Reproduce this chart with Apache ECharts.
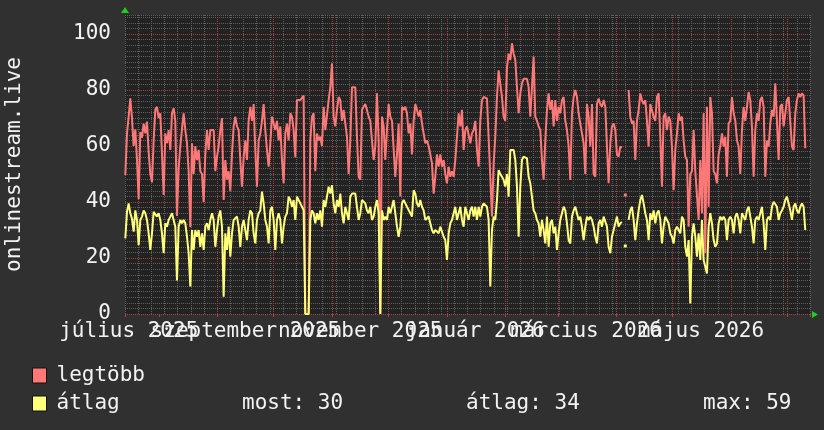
<!DOCTYPE html>
<html>
<head>
<meta charset="utf-8">
<script src="https://cdn.jsdelivr.net/npm/echarts@6/dist/echarts.min.js"></script>
<style>
html,body{margin:0;padding:0;background:#303030;}
#c{width:824px;height:430px;}
</style>
</head>
<body>
<div id="c"></div>
<script>
// ---- data (x unit: days after Monday 2025-07-14) ----
const yTitle = 'onlinestream.live';
const seriesNames = ['legtöbb', 'átlag'];
const rangeStartUTC = Date.UTC(2025, 6, 14);
const rangeEndUTC = Date.UTC(2026, 6, 13);
const monthLabelDays = [2, 64, 125, 186, 245, 306];
const monthLabels = ['július 2025', 'szeptember 2025', 'november 2025', 'január 2026', 'március 2026', 'május 2026'];
const yTicks = [0, 20, 40, 60, 80, 100];
const statTexts = ['most: 30', 'átlag: 34', 'max: 59'];
const sampleStart = 0.17;   // first sample, days
const sampleStep = 0.8856;  // days between samples

const legtobb = [
  49.6, 64.5, 70.5, 77, 70, 60, 66, 55, 41, 65,
  63, 68, 64.5, 68.7, 58, 50, 47, 62, 73, 74,
  70, 71.7, 71, 42.5, 64.5, 61, 65.7, 58.6, 71.7, 73.5,
  69, 35, 52, 60, 66, 71.7, 65.7, 61, 51, 31,
  61, 50, 60, 55, 58.6, 51, 50, 40, 57, 65.7,
  58.6, 65.7, 66, 65.7, 51, 56, 60, 65.7, 70, 40.7,
  55, 48, 51, 44, 57, 67, 70.5, 67, 65.7, 55,
  45.5, 56, 62, 55, 69, 74, 69, 75, 58.6, 45.5,
  62, 64.5, 69, 75, 65.7, 58.6, 52.6, 61, 70.5, 70.5,
  65.7, 69, 62, 67, 55, 46.7, 64.5, 68, 62, 71.7,
  70.5, 65.7, 56, 76.4, 75.8, 76.4, 77, 78, 0, 0,
  0, 62, 70.5, 71.7, 51, 64.5, 62, 63.3, 60, 74,
  65.7, 65.7, 76.4, 81, 89.5, 70.5, 67, 73, 77.5, 76.4,
  69, 72.9, 68, 63.3, 50, 62, 81, 81, 81,
  63.3, 49, 48, 72.9, 74, 75, 72.9, 70.5, 69, 62,
  55, 60, 78.8, 62, 0, 70.5, 67, 55, 65.7, 75,
  70.5, 69, 69, 49, 57, 68, 42, 74, 72.9, 74,
  71.7, 64.5, 68, 57, 69, 75, 72.9, 70.5, 72.9, 68,
  64.5, 61, 62, 60, 57, 53.8, 43, 49, 57, 52.6,
  57, 52.6, 55, 50, 46.7, 52.6, 49, 51, 49, 55,
  63.3, 71.7, 67, 72.9, 58.6, 65.7, 67, 67, 61, 64.5,
  65.7, 69, 58.6, 52.6, 69, 76.4, 77.5, 77.5, 77, 77.5,
  49, 34.8, 53.8, 63.3, 77.5, 87, 87, 77.5, 70.5, 69,
  88, 93, 90.7, 96.7, 93, 90.7, 81, 71.7, 78.8, 82.4,
  84, 83.3, 84, 81, 70.5, 81, 92, 70.5, 69, 67,
  65.7, 55, 48, 62, 72.9, 78.8, 72.9, 76.4, 67, 76.4,
  69, 74, 71.7, 76.4, 77.5, 69, 65.7, 60, 47.9, 71.7,
  77.5, 80, 77.5, 71.7, 68, 64.5, 61, 50,
  75, 70.5, 59.8, 75, 50, 49, 75, 77, 75, 74,
  76.4, 74, 59.8, 46.7, 61, 67, 68, 65.7, 57, 56.2,
  59.8, 59.4, null, 42.5, null, 80, 70.5, 68, 69, 55,
  69, 72.9, 78.8, 76.4, 75, 76.4, 69, 59.8, 75, 75,
  70.5, 69, 77.5, 78.8, 63.3, 45.5, 70.5, 71.7, 65.7, 70.5,
  69, 59.8, 44.2, 58.6, 64.5, 71.7, 69, 70.5, 62, 56.2,
  55, 31.2, 50, 51, 65.7, 51, 51, 33.6, 55, 36,
  71.7, 21.7, 74, 38.3, 77.5, 71.7, 51, 50, 46.7, 57,
  59.8, 64.5, 59.8, 63.3, 49, 68, 69, 77.5, 71.7, 69,
  62, 59.8, 50, 65.7, 74, 69, 74, 79.3, 76.4, 67,
  49, 65.7, 71.7, 69, 76.4, 77.5, 74, 49, 62, 59.8,
  68, 72.9, 70.5, 82.4, 82.4, 55, 74, 75, 67, 71.7,
  76.4, 77.5, 77.5, 59.8, 58.6, 71.7, 76.4, 78.8, 77.5, 78.8,
  78, 59.2
];

const atlag = [
  27, 36.5, 39.5, 36, 34, 29.4, 37, 33.6, 24.6, 33.6,
  34.8, 37, 36, 33.6, 28.8, 22.9, 28.8, 36.5, 37, 34.8,
  36, 33.6, 28.8, 21.7, 32.4, 31.2, 33.6, 34.8, 36, 36.5,
  31.2, 12, 31.2, 33.6, 32.4, 33.6, 32.4, 27.6, 21.7, 9.8,
  30, 22.9, 30, 27.6, 30, 24, 28.8, 22.9, 31.2, 32.4,
  30, 33.6, 36, 33.6, 24, 30, 34.8, 37, 31.2, 6.2,
  28.8, 22.9, 31.2, 20.5, 28.8, 33.6, 33.6, 34.8, 31.2, 24,
  31.2, 33.6, 33.6, 26.4, 33.6, 37, 36, 28.8, 25.2, 33.6,
  36, 37, 43.7, 39.5, 33.6, 31.2, 25.2, 37, 38.3, 33.6,
  22.9, 33.6, 36, 33.6, 25.2, 31.2, 34.8, 36, 41.9, 40.7,
  38.3, 40.7, 33.6, 41.9, 40.7, 39.5, 38.3, 37, 0, 0,
  0, 33.6, 37, 36, 32.4, 36, 33.6, 37, 31.2, 40.7,
  38.3, 41.9, 45.5, 43, 46, 39.5, 36, 40.7, 38.3, 43,
  36, 32.4, 38.3, 36, 33.6, 41.9, 43, 43, 43,
  38.3, 33.6, 36, 40.7, 40.7, 39.5, 37, 36, 38.3, 33.6,
  34.8, 38.3, 40.7, 36, 0, 37, 33.6, 34.8, 33.6, 38.3,
  36, 38.3, 40.7, 36, 31.2, 27.6, 31.2, 39.5, 40.7, 39.5,
  38.3, 38.3, 36, 34.8, 44.2, 43, 39.5, 38.3, 40.7, 38.3,
  37, 33.6, 33.6, 34.8, 32.4, 30, 28.8, 30, 30, 28.8,
  31.2, 31.2, 27.6, 26.4, 19.3, 28.8, 32.4, 33.6, 33.6, 38.3,
  33.6, 36, 38.3, 33.6, 31.2, 38.3, 36, 33.6, 37, 38.3,
  34.8, 38.3, 33.6, 38.3, 34.8, 38.3, 39.5, 39.5, 38.3, 33.6,
  9.8, 30, 34.8, 33.6, 40.7, 51.4, 50, 49, 47.9, 45.5,
  50, 41.9, 58.6, 59.2, 58.6, 55, 45.5, 27.6, 45.5, 55,
  56.2, 56.2, 55.6, 49, 46.7, 46.7, 37, 36, 33.6, 32.4,
  27.6, 33.6, 30, 25.2, 34.8, 24, 32.4, 33.6, 28.8, 31.2,
  22.9, 28.8, 33.6, 36, 38.3, 37, 32.4, 26.4, 25.2, 34.8,
  37, 38.3, 36, 33.6, 34.8, 31.2, 26.4, 31.2,
  34.8, 33.6, 34.8, 33.6, 31.2, 27.6, 25.2, 32.4, 33.6, 31.2,
  34.8, 34.8, 31.2, 24, 21.7, 27.6, 30, 32.4, 34.8, 31.2,
  32.4, 32.9, null, 24.3, null, 33.6, 37, 38.3, 33.6, 26.4,
  32.4, 37, 40.7, 42.5, 39.5, 36, 33.6, 26.4, 36, 33.6,
  37, 32.4, 36, 37, 33.6, 25.2, 31.2, 34.8, 34.8, 32.4,
  28.8, 27.6, 25.2, 30, 31.2, 30, 28.8, 34.8, 33.6, 24,
  20.5, 26.4, 3.8, 27.6, 32.4, 27.6, 20.5, 28.8, 19.3, 33.6,
  19.3, 19, 14.5, 31.2, 36, 32.4, 26.4, 24, 25.2, 32.4,
  34.8, 33.6, 34.8, 33.6, 26.4, 33.6, 34.8, 33.6, 28.8, 34.8,
  36, 33.6, 28.8, 36, 34.8, 33.6, 37, 38.3, 34.8, 31.2,
  25.2, 33.6, 34.8, 33.6, 36, 38.3, 32.4, 22.9, 33.6, 34.8,
  33.6, 38.3, 40.1, 40.7, 38.3, 33.6, 36, 37, 38.3, 40.7,
  41.9, 39.5, 37, 33.6, 38.3, 39.5, 37, 36, 38.3, 39.5,
  38.3, 30
];

// ---- build ----
function build(vals) {
  return vals.map(function (v, i) {
    const t = sampleStart + i * sampleStep;
    if (v == null) return [t, '-'];
    const isolated = i > 0 && i < vals.length - 1 && vals[i - 1] == null && vals[i + 1] == null;
    if (isolated) return { value: [t, v], symbol: 'rect', symbolSize: 3 };
    return [t, v];
  });
}

const FONT = "'DejaVu Sans Mono', monospace";
const TXT = '#f2f2f2';
const RED = '#ff7878';
const YEL = '#ffff7a';
const MINOR = '#606060';
const MAJOR = '#a04040';
const CLEAR = 'rgba(0,0,0,0)';
const DAY = 86400000;

// month labels overlap in the original, so they are spread over three label axes
function labelAxis(idxs) {
  const vals = idxs.map(function (i) { return monthLabelDays[i]; });
  return {
    type: 'value', min: 0, max: 364, position: 'bottom',
    axisLine: { show: false }, axisTick: { show: false }, splitLine: { show: false },
    axisLabel: {
      show: true, customValues: vals, hideOverlap: false,
      showMinLabel: true, showMaxLabel: true,
      formatter: function (v) { return monthLabels[monthLabelDays.indexOf(v)]; },
      color: TXT, fontSize: 21, fontFamily: FONT, margin: 7
    }
  };
}

// month grid colours: first/last ticks are the range edges, keep them invisible
const monthGridColors = [CLEAR, MAJOR, MAJOR, MAJOR, MAJOR, MAJOR, MAJOR, MAJOR, MAJOR, MAJOR, MAJOR, MAJOR, MAJOR, CLEAR];

const chart = echarts.init(document.getElementById('c'), null, { renderer: 'canvas' });
chart.setOption({
  useUTC: true,
  backgroundColor: '#303030',
  animation: false,
  textStyle: { fontFamily: FONT },
  grid: {
    left: 125, right: 14, top: 15, bottom: 116,
    show: true, backgroundColor: '#222222', borderWidth: 0,
    containLabel: false, outerBoundsMode: 'none'
  },
  legend: {
    orient: 'vertical', left: 32, top: 365, padding: 0,
    itemWidth: 14, itemHeight: 15, itemGap: 7,
    icon: 'rect', selectedMode: false,
    itemStyle: { borderColor: '#111', borderWidth: 1 },
    textStyle: { color: TXT, fontSize: 21, fontFamily: FONT, padding: [0, 0, 0, 5] },
    data: seriesNames
  },
  xAxis: [
    {
      type: 'value', min: 0, max: 364, interval: 7, position: 'bottom',
      axisLine: { show: false }, axisTick: { show: false }, axisLabel: { show: false },
      splitLine: { show: true, lineStyle: { color: MINOR, width: 1, type: [1, 1] } }
    },
    labelAxis([0, 2, 5]),
    labelAxis([1, 3]),
    labelAxis([4]),
    {
      // month grid (red) on a calendar axis spanning the same range
      type: 'time', min: rangeStartUTC, max: rangeEndUTC, position: 'bottom',
      splitNumber: 12, minInterval: 28 * DAY, maxInterval: 31 * DAY,
      axisLine: { show: false }, axisLabel: { show: false },
      axisTick: { show: true, length: 3, lineStyle: { color: '#b04040' } },
      splitLine: { show: true, showMinLine: false, showMaxLine: false, lineStyle: { color: monthGridColors, width: 1, type: [1, 1] } }
    }
  ],
  yAxis: [
    {
      type: 'value', min: 0, max: 106.8, interval: 2, position: 'left',
      axisLine: { show: false }, axisTick: { show: false },
      splitLine: { show: true, lineStyle: { color: MINOR, width: 1, type: [1, 1] } },
      axisLabel: { customValues: yTicks, color: TXT, fontSize: 21, fontFamily: FONT, margin: 14 },
      name: yTitle, nameLocation: 'middle', nameGap: 100,
      nameTextStyle: { color: TXT, fontSize: 21, fontFamily: FONT }
    },
    {
      type: 'value', min: 0, max: 106.8, interval: 20, position: 'left',
      axisLine: { show: false }, axisTick: { show: false }, axisLabel: { show: false },
      splitLine: { show: true, showMaxLine: false, lineStyle: { color: MAJOR, width: 1, type: [1, 1] } }
    }
  ],
  graphic: [
    { type: 'polygon', silent: true, shape: { points: [[121, 13], [129, 13], [125, 7]] }, style: { fill: '#1ed01e' } },
    { type: 'polygon', silent: true, shape: { points: [[812, 311], [812, 318], [818, 314.5]] }, style: { fill: '#1ed01e' } },
    { type: 'text', silent: true, x: 242, y: 404, style: { text: statTexts[0], fill: TXT, font: '21px ' + FONT, verticalAlign: 'middle' } },
    { type: 'text', silent: true, x: 466, y: 404, style: { text: statTexts[1], fill: TXT, font: '21px ' + FONT, verticalAlign: 'middle' } },
    { type: 'text', silent: true, x: 703, y: 404, style: { text: statTexts[2], fill: TXT, font: '21px ' + FONT, verticalAlign: 'middle' } }
  ],
  series: [
    {
      name: seriesNames[0], type: 'line', xAxisIndex: 0, yAxisIndex: 0,
      data: build(legtobb), symbol: 'none', showSymbol: true, connectNulls: false, silent: true,
      lineStyle: { width: 2, color: RED }, itemStyle: { color: RED }
    },
    {
      name: seriesNames[1], type: 'line', xAxisIndex: 0, yAxisIndex: 0,
      data: build(atlag), symbol: 'none', showSymbol: true, connectNulls: false, silent: true,
      lineStyle: { width: 2, color: YEL }, itemStyle: { color: YEL }
    }
  ]
});
</script>
</body>
</html>
